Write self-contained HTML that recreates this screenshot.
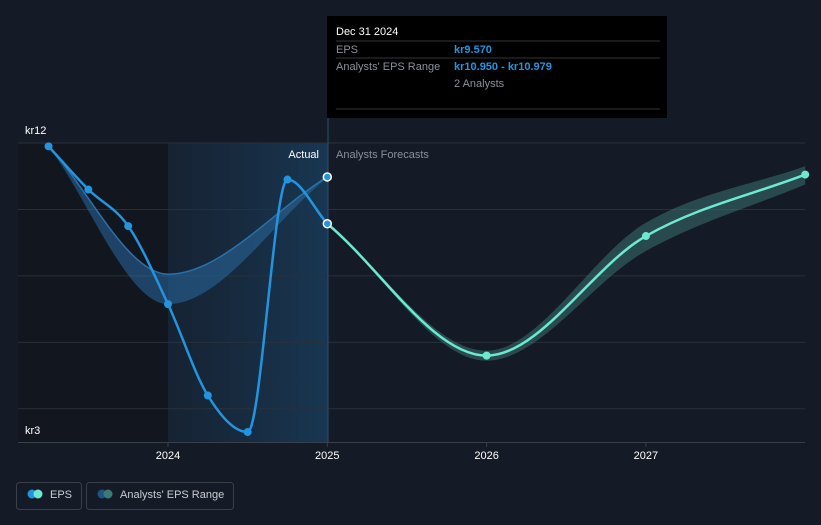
<!DOCTYPE html>
<html><head><meta charset="utf-8"><style>
body{margin:0;background:#151b26;font-family:"Liberation Sans",sans-serif;}
svg text{font-family:"Liberation Sans",sans-serif;}
</style></head><body>
<svg width="821" height="520" viewBox="0 0 821 520">
<defs>
<linearGradient id="pg" x1="0" x2="1"><stop offset="0" stop-color="#1a3a5a" stop-opacity="0.25"/><stop offset="1" stop-color="#1a4a70" stop-opacity="0.6"/></linearGradient>
</defs>
<rect width="821" height="520" fill="#151b26"/>
<rect x="18" y="143" width="150" height="299" fill="#12161f"/>
<rect x="168" y="143" width="160" height="299" fill="url(#pg)"/>
<g id="grid"></g>
<g id="marks"></g>
<text x="319" y="158" fill="#ffffff" font-size="11" text-anchor="end">Actual</text>
<text x="336" y="158" fill="#8a9099" font-size="11">Analysts Forecasts</text>
<g>
<rect x="327" y="16" width="340" height="102" fill="#000"/>
<text x="336" y="35" fill="#fff" font-size="11">Dec 31 2024</text>
<line x1="336" y1="41" x2="660" y2="41" stroke="#333"/>
<text x="336" y="53" fill="#8a9099" font-size="11">EPS</text>
<text x="454" y="53" fill="#2394df" font-size="11" font-weight="bold">kr9.570</text>
<line x1="336" y1="58" x2="660" y2="58" stroke="#333"/>
<text x="336" y="70" fill="#8a9099" font-size="11">Analysts' EPS Range</text>
<text x="454" y="70" fill="#2394df" font-size="11" font-weight="bold">kr10.950 - kr10.979</text>
<text x="454" y="87" fill="#8a9099" font-size="11">2 Analysts</text>
<line x1="336" y1="109" x2="660" y2="109" stroke="#333"/>
</g>
<g>
<rect x="16.5" y="482.5" width="65" height="27" rx="3" fill="none" stroke="#3a404a"/>
<circle cx="32" cy="494" r="4.5" fill="#2394df"/><circle cx="38" cy="494" r="4.5" fill="#6ee8d0"/>
<text x="50" y="498" fill="#c8ccd2" font-size="11">EPS</text>
<rect x="86.5" y="482.5" width="147" height="27" rx="3" fill="none" stroke="#3a404a"/>
<circle cx="102" cy="494" r="4.5" fill="#1e5580"/><circle cx="108" cy="494" r="4.5" fill="#3b7a78"/>
<text x="120" y="498" fill="#c8ccd2" font-size="11">Analysts' EPS Range</text>
</g>
</svg>
<script>
const yTicks=[12,10,8,6,4];
const yLabels=["kr12","kr3"];
const xTicks=[2024,2025,2026,2027];
const actT=[2023.25,2023.5,2023.75,2024.0,2024.25,2024.5,2024.75,2025.0];
const actV=[11.9,10.6,9.5,7.15,4.4,3.3,10.9,9.57];
const pastRangeT=[2023.25,2024.0,2025.0];
const pastRangeHi=[11.9,8.05,10.979];
const pastRangeLo=[11.9,7.15,10.95];
const fcT=[2025,2026,2027,2028];
const fcV=[9.57,5.6,9.2,11.05];
const fcHi=[9.57,5.75,9.6,11.3];
const fcLo=[9.57,5.45,8.75,10.75];
const NS="http://www.w3.org/2000/svg";
const X=t=>168+(t-2024)*159.3;
const Y=v=>442-(v-3)*33.22;
function mk(tag,a,p){const e=document.createElementNS(NS,tag);for(const k in a)e.setAttribute(k,a[k]);p.appendChild(e);return e;}
function path(ts,vs){
  const x=ts.map(X),y=vs.map(Y),n=x.length;
  const d=[],m=new Array(n);
  for(let i=0;i<n-1;i++)d.push((y[i+1]-y[i])/(x[i+1]-x[i]));
  m[0]=d[0];m[n-1]=d[n-2];
  for(let i=1;i<n-1;i++){m[i]=(d[i-1]*d[i]<=0)?0:(d[i-1]+d[i])/2;}
  for(let i=0;i<n-1;i++){if(d[i]===0){m[i]=0;m[i+1]=0;continue;}const a=m[i]/d[i],b=m[i+1]/d[i],s=a*a+b*b;if(s>9){const t=3/Math.sqrt(s);m[i]=t*a*d[i];m[i+1]=t*b*d[i];}}
  let s="M"+x[0]+","+y[0];
  for(let i=0;i<n-1;i++){const h=(x[i+1]-x[i])/3;s+="C"+(x[i]+h)+","+(y[i]+m[i]*h)+" "+(x[i+1]-h)+","+(y[i+1]-m[i+1]*h)+" "+x[i+1]+","+y[i+1];}
  return s;
}
function band(ts,hi,lo){const a=path(ts,hi);const b=path(ts.slice().reverse(),lo.slice().reverse());return a+"L"+b.slice(1)+"Z";}
const g=document.getElementById('grid'),m=document.getElementById('marks');
yTicks.forEach(v=>{const l=mk('line',{x1:18,x2:805,y1:Y(v),y2:Y(v),stroke:'#2a303a'},g);});
const ax=mk('line',{x1:18,x2:805,y1:442.5,y2:442.5,stroke:'#3a404a'},g);
mk('line',{x1:328,x2:328,y1:118,y2:442,stroke:'#2a5070'},g);
const t1=mk('text',{x:25,y:134,fill:'#fff','font-size':11},g);t1.textContent=yLabels[0];
const t2=mk('text',{x:25,y:434,fill:'#fff','font-size':11},g);t2.textContent=yLabels[1];
xTicks.forEach(t=>{mk('line',{x1:X(t),x2:X(t),y1:442,y2:447,stroke:'#3a404a'},g);const e=mk('text',{x:X(t),y:459,fill:'#fff','font-size':11,'text-anchor':'middle'},g);e.textContent=t;});
const pb=mk('path',{d:band(pastRangeT,pastRangeHi,pastRangeLo),fill:'#2a6aa0','fill-opacity':0.55},m);
const fb=mk('path',{d:band(fcT,fcHi,fcLo),fill:'#3b7a78','fill-opacity':0.5},m);
const pl=mk('path',{d:path(pastRangeT,pastRangeHi),fill:'none',stroke:'#2a70a8','stroke-width':1.5},m);
const al=mk('path',{d:path(actT,actV),fill:'none',stroke:'#2394df','stroke-width':2.5},m);
const fl=mk('path',{d:path(fcT,fcV),fill:'none',stroke:'#6ee8d0','stroke-width':2.5},m);
actT.forEach((t,i)=>{if(i==actT.length-1)return;const c=mk('circle',{cx:X(t),cy:Y(actV[i]),r:4,fill:'#2394df'},m);});
fcT.forEach((t,i)=>{if(i==0)return;const c=mk('circle',{cx:X(t),cy:Y(fcV[i]),r:4,fill:'#6ee8d0'},m);});
const c1=mk('circle',{cx:X(2025),cy:Y(actV[actV.length-1]),r:4,fill:'#2394df',stroke:'#fff','stroke-width':1.5},m);
const c2=mk('circle',{cx:X(2025),cy:Y(pastRangeHi[pastRangeHi.length-1]),r:4,fill:'#2394df',stroke:'#fff','stroke-width':1.5},m);
</script>
</body></html>
